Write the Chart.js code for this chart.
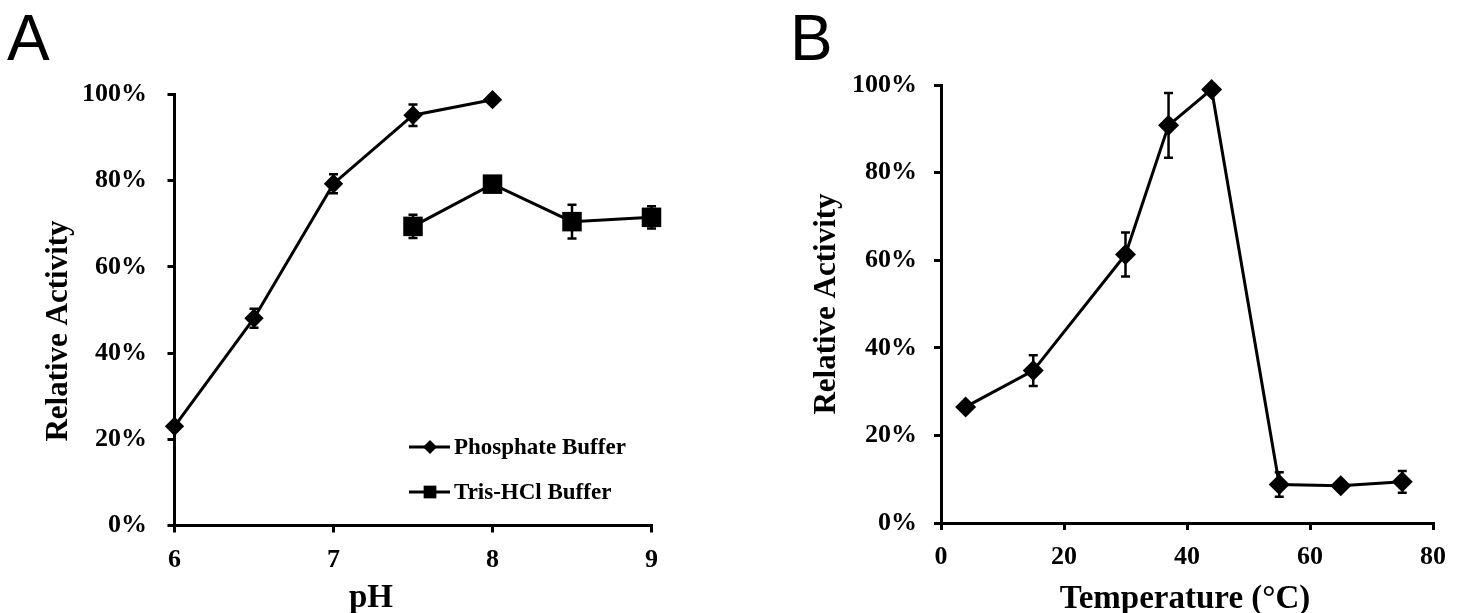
<!DOCTYPE html>
<html>
<head>
<meta charset="utf-8">
<script src="https://cdn.jsdelivr.net/npm/chart.js@4.4.0/dist/chart.umd.min.js"></script>
<style>
    html, body { margin: 0; padding: 0; background: #fff; }
    #wrap { position: relative; width: 1458px; height: 613px; }
    canvas { position: absolute; top: 0; }
</style>
</head>
<body>
<div id="wrap">
    <canvas id="panelA" width="729" height="613" style="left:0"></canvas>
    <canvas id="panelB" width="729" height="613" style="left:729px"></canvas>
</div>
<script>
// PANEL A - pH
const phPhosphate = [6, 6.5, 7, 7.5, 8];
const actPhosphate = [23.0, 48.1, 79.3, 95.2, 98.8];
const errPhosphate = [0.5, 2.2, 2.2, 2.5, 0.5];

const phTris = [7.5, 8, 8.5, 9];
const actTris = [69.4, 79.2, 70.5, 71.5];
const errTris = [2.7, 1.0, 3.9, 2.6];

const phTicks = [6, 7, 8, 9];

// PANEL B - temperatura
const tempC = [4, 15, 30, 37, 44, 55, 65, 75];
const actTemp = [26.5, 34.8, 61.3, 90.8, 99.0, 8.8, 8.5, 9.4];
const errTemp = [1.0, 3.5, 5.0, 7.4, 0.5, 2.8, 0.5, 2.5];

const tempTicks = [0, 20, 40, 60, 80];
const pctTicks = [0, 20, 40, 60, 80, 100];

const serif = "'Liberation Serif', 'Times New Roman', serif";

function pairs(xs, ys) {
    return xs.map((x, i) => ({ x: x, y: ys[i] }));
}

// barras de error, dibujadas debajo de los marcadores
const errorBars = {
    id: "errorBars",
    beforeDatasetsDraw(chart) {
        const ctx = chart.ctx;
        const yScale = chart.scales.y;
        ctx.save();
        ctx.strokeStyle = "#000";
        ctx.lineWidth = 2.5;
        chart.data.datasets.forEach((ds, i) => {
            const meta = chart.getDatasetMeta(i);
            meta.data.forEach((pt, j) => {
                const e = ds.errors[j];
                const v = ds.data[j].y;
                const top = yScale.getPixelForValue(v + e);
                const bot = yScale.getPixelForValue(v - e);
                ctx.beginPath();
                ctx.moveTo(pt.x, top);
                ctx.lineTo(pt.x, bot);
                ctx.moveTo(pt.x - 4.5, top);
                ctx.lineTo(pt.x + 4.5, top);
                ctx.moveTo(pt.x - 4.5, bot);
                ctx.lineTo(pt.x + 4.5, bot);
                ctx.stroke();
            });
        });
        ctx.restore();
    },
};

function marker(ctx, style, x, y, r) {
    ctx.beginPath();
    if (style === "rect") {
        const s = r * Math.SQRT1_2;
        ctx.rect(x - s, y - s, 2 * s, 2 * s);
    } else {
        ctx.moveTo(x, y - r);
        ctx.lineTo(x + r, y);
        ctx.lineTo(x, y + r);
        ctx.lineTo(x - r, y);
        ctx.closePath();
    }
    ctx.fill();
}

// letra del panel, titulos de ejes y leyenda
const panelText = {
    id: "panelText",
    afterDraw(chart, args, opts) {
        const ctx = chart.ctx;
        ctx.save();
        ctx.fillStyle = "#000";
        ctx.strokeStyle = "#000";

        ctx.font = "64px 'Liberation Sans', Arial, sans-serif";
        ctx.textAlign = "left";
        ctx.textBaseline = "alphabetic";
        ctx.fillText(opts.letter.text, opts.letter.x, opts.letter.y);

        ctx.font = "bold 33px " + serif;
        ctx.textAlign = "center";
        ctx.fillText(opts.xTitle.text, opts.xTitle.x, opts.xTitle.y);

        ctx.save();
        ctx.translate(opts.yTitle.x, opts.yTitle.y);
        ctx.rotate(-Math.PI / 2);
        ctx.font = "bold 31px " + serif;
        ctx.textBaseline = "middle";
        ctx.fillText(opts.yTitle.text, 0, 0);
        ctx.restore();

        if (opts.legend) {
            const lg = opts.legend;
            ctx.font = "bold 23px " + serif;
            ctx.textAlign = "left";
            ctx.textBaseline = "middle";
            chart.data.datasets.forEach((ds, i) => {
                const y = lg.y + i * lg.gap;
                ctx.lineWidth = 3;
                ctx.beginPath();
                ctx.moveTo(lg.x, y);
                ctx.lineTo(lg.x + 41, y);
                ctx.stroke();
                marker(ctx, ds.pointStyle, lg.x + 21, y, ds.pointStyle === "rect" ? 9 : 7);
                ctx.fillText(ds.label, lg.x + 45, y + 1);
            });
        }
        ctx.restore();
    },
};

function baseDataset(label, data, errors, style, radius) {
    return {
        label: label,
        data: data,
        errors: errors,
        borderColor: "#000",
        backgroundColor: "#000",
        pointBackgroundColor: "#000",
        pointBorderColor: "#000",
        pointBorderWidth: 0,
        borderWidth: 3,
        pointStyle: style,
        pointRadius: radius,
        tension: 0,
        clip: false,
    };
}

function axisOpts(min, max, step, tickVals, fmt, pad, size) {
    return {
        type: "linear",
        min: min,
        max: max,
        afterBuildTicks: (scale) => {
            scale.ticks = tickVals.map((v) => ({ value: v }));
        },
        ticks: {
            stepSize: step,
            color: "#000",
            padding: pad,
            font: { family: serif, size: 26, weight: "bold" },
            callback: fmt,
        },
        grid: {
            display: true,
            drawOnChartArea: false,
            drawTicks: true,
            tickLength: 7,
            color: "#000",
            lineWidth: 3,
        },
        border: { display: true, color: "#000", width: 3 },
        afterFit: size,
    };
}

const ctxA = document.getElementById("panelA").getContext("2d");
new Chart(ctxA, {
    type: "line",
    data: {
        datasets: [
            baseDataset("Phosphate Buffer", pairs(phPhosphate, actPhosphate), errPhosphate, "rectRot", 9.7),
            baseDataset("Tris-HCl Buffer", pairs(phTris, actTris), errTris, "rect", 13.8),
        ],
    },
    options: {
        responsive: false,
        animation: false,
        layout: { padding: { top: 94.5, right: 77.5, bottom: 0, left: 0 } },
        scales: {
            x: axisOpts(6, 9, 1, phTicks, (v) => v, 12, (s) => { s.height = 87.5; }),
            y: axisOpts(0, 100, 20, pctTicks, (v) => v + "%", 20.5, (s) => { s.width = 174.5; }),
        },
        plugins: {
            legend: { display: false },
            tooltip: { enabled: false },
            panelText: {
                letter: { text: "A", x: 7, y: 60 },
                xTitle: { text: "pH", x: 371, y: 607 },
                yTitle: { text: "Relative Activity", x: 59, y: 331 },
                legend: { x: 409, y: 447, gap: 45 },
            },
        },
    },
    plugins: [errorBars, panelText],
});

const ctxB = document.getElementById("panelB").getContext("2d");
new Chart(ctxB, {
    type: "line",
    data: {
        datasets: [
            baseDataset("Temperature", pairs(tempC, actTemp), errTemp, "rectRot", 10.5),
        ],
    },
    options: {
        responsive: false,
        animation: false,
        layout: { padding: { top: 85, right: 17, bottom: 0, left: 0 } },
        scales: {
            x: axisOpts(0, 80, 20, tempTicks, (v) => v, 12, (s) => { s.height = 90; }),
            y: axisOpts(0, 100, 20, pctTicks, (v) => v + "%", 17, (s) => { s.width = 212; }),
        },
        plugins: {
            legend: { display: false },
            tooltip: { enabled: false },
            panelText: {
                letter: { text: "B", x: 61, y: 60 },
                xTitle: { text: "Temperature (°C)", x: 456, y: 608 },
                yTitle: { text: "Relative Activity", x: 98, y: 304 },
            },
        },
    },
    plugins: [errorBars, panelText],
});
</script>
</body>
</html>
